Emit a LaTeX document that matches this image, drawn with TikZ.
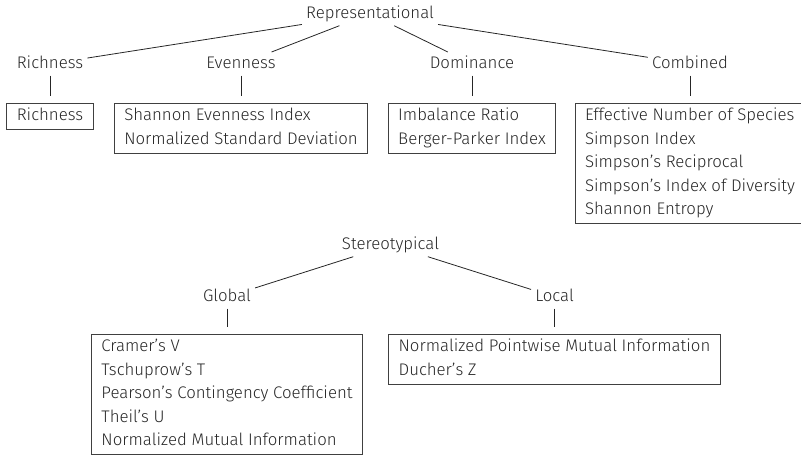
\documentclass[tikz,border=0pt]{standalone}
\usepackage{fontspec}
\setmainfont{Fira Sans Light}
\begin{document}
\begin{tikzpicture}[x=1pt,y=-1pt,
 lab/.style={anchor=base,text height=11.8pt,text depth=3.5pt,inner sep=4pt,font=\fontsize{16.8}{19}\selectfont,text=black!85},
 box/.style={draw=black!75,line width=0.9pt,align=left,inner xsep=10pt,inner ysep=1.5pt,outer ysep=7pt,anchor=north,font=\fontsize{16.8}{23.5}\selectfont,text=black!85},
 edge/.style={draw=black!85,line width=0.8pt}]
\useasboundingbox (0,0) rectangle (801,456);
% top tree
\node[lab] (rep) at (370,18) {Representational};
\node[lab] (richL) at (50,68) {Richness};
\node[lab] (evenL) at (241,68) {Evenness};
\node[lab] (domL) at (472,68) {Dominance};
\node[lab] (combL) at (690,68) {Combined};
\node[box] (richB) at (50,96) {\strut Richness};
\node[box] (evenB) at (241,96) {\strut Shannon Evenness Index\\\strut Normalized Standard Deviation};
\node[box] (domB) at (472,96) {\strut Imbalance Ratio\\\strut Berger-Parker Index};
\node[box] (combB) at (690,96) {\strut Effective Number of Species\\\strut Simpson Index\\\strut Simpson’s Reciprocal\\\strut Simpson’s Index of Diversity\\\strut Shannon Entropy};
\draw[edge] (rep) -- (richL);
\draw[edge] (rep) -- (evenL);
\draw[edge] (rep) -- (domL);
\draw[edge] (rep) -- (combL);
\draw[edge] (richL) -- (richB);
\draw[edge] (evenL) -- (evenB);
\draw[edge] (domL) -- (domB);
\draw[edge] (combL) -- (combB);
% bottom tree
\node[lab] (ster) at (390.5,249) {Stereotypical};
\node[lab] (globL) at (227,301) {Global};
\node[lab] (locL) at (554.5,301) {Local};
\node[box] (globB) at (227,327) {\strut Cramer’s V\\\strut Tschuprow’s T\\\strut Pearson’s Contingency Coefficient\\\strut Theil’s U\\\strut Normalized Mutual Information};
\node[box] (locB) at (554.5,327) {\strut Normalized Pointwise Mutual Information\\\strut Ducher’s Z};
\draw[edge] (ster) -- (globL);
\draw[edge] (ster) -- (locL);
\draw[edge] (globL) -- (globB);
\draw[edge] (locL) -- (locB);
\end{tikzpicture}
\end{document}
